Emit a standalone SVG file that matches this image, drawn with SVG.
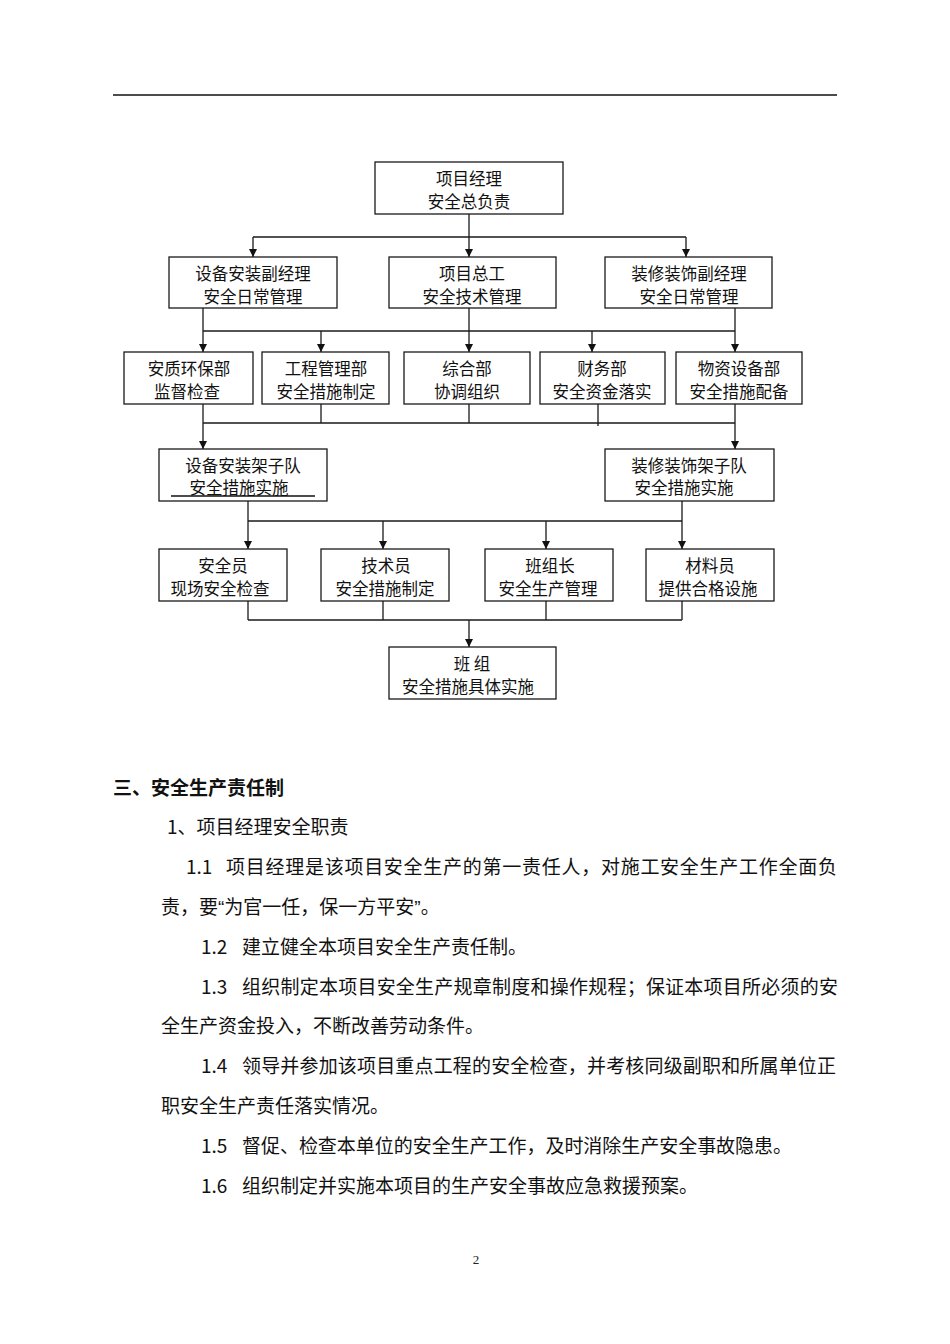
<svg xmlns="http://www.w3.org/2000/svg" width="950" height="1344" viewBox="0 0 950 1344">
<style>
.box{fill:#fff;stroke:#1a1a1a;stroke-width:1.3}
.bt{font-family:"Noto Sans CJK SC","Noto Sans",sans-serif;font-size:16.5px;fill:#111;text-anchor:middle}
.ln{fill:none;stroke:#1a1a1a;stroke-width:1.3}
.ar{fill:none;stroke:#1a1a1a;stroke-width:1.3;marker-end:url(#arr)}
.tx{font-family:"Noto Sans CJK SC","Noto Sans",sans-serif;font-size:19px;fill:#111}
.hd{font-weight:bold}
.q{font-family:"Liberation Sans",sans-serif}
</style>
<defs>
<marker id="arr" markerUnits="userSpaceOnUse" viewBox="0 0 8 8" refX="8" refY="4" markerWidth="8" markerHeight="8" orient="auto">
<path d="M0,0 L8,4 L0,8 z" fill="#111"/>
</marker>
</defs>
<rect width="950" height="1344" fill="#fff"/>
<line x1="113" y1="95" x2="837" y2="95" stroke="#111" stroke-width="1.4"/>

<g id="connectors">
<path class="ln" d="M469,214 V237 M253,237 H686"/>
<path class="ar" d="M253,237 V257"/>
<path class="ar" d="M469,237 V257"/>
<path class="ar" d="M686,237 V257"/>
<path class="ln" d="M203,331 H735"/>
<path class="ar" d="M203,308 V352"/>
<path class="ar" d="M469,308 V352"/>
<path class="ar" d="M735,308 V352"/>
<path class="ar" d="M321,331 V352"/>
<path class="ar" d="M592,331 V352"/>
<path class="ln" d="M203,423 H735 M321,404 V423 M469,404 V423 M598,404 V426"/>
<path class="ar" d="M203,404 V449"/>
<path class="ar" d="M735,404 V449"/>
<path class="ln" d="M248,521 H682"/>
<path class="ar" d="M248,501 V549"/>
<path class="ar" d="M682,501 V549"/>
<path class="ar" d="M383,521 V549"/>
<path class="ar" d="M546,521 V549"/>
<path class="ln" d="M248,601 V620 M383,589 V620 M546,601 V620 M682,601 V620 M248,620 H682"/>
<path class="ar" d="M469,620 V647"/>
</g>

<g id="n_pm"><rect class="box" x="375" y="162" width="188" height="52"/><text class="bt" x="469" y="185">项目经理</text><text class="bt" x="469" y="208">安全总负责</text></g>

<g id="n_dev"><rect class="box" x="169" y="257" width="168" height="51"/><text class="bt" x="253" y="280">设备安装副经理</text><text class="bt" x="253" y="303">安全日常管理</text></g>
<g id="n_chief"><rect class="box" x="389" y="257" width="167" height="51"/><text class="bt" x="472" y="280">项目总工</text><text class="bt" x="472" y="303">安全技术管理</text></g>
<g id="n_deco"><rect class="box" x="605" y="257" width="167" height="51"/><text class="bt" x="689" y="280">装修装饰副经理</text><text class="bt" x="689" y="303">安全日常管理</text></g>

<g id="n_qa"><rect class="box" x="124" y="352" width="129" height="52"/><text class="bt" x="189" y="375">安质环保部</text><text class="bt" x="187" y="398">监督检查</text></g>
<g id="n_eng"><rect class="box" x="262" y="352" width="127" height="52"/><text class="bt" x="326" y="375">工程管理部</text><text class="bt" x="326" y="398">安全措施制定</text></g>
<g id="n_gen"><rect class="box" x="404" y="352" width="126" height="52"/><text class="bt" x="467" y="375">综合部</text><text class="bt" x="467" y="398">协调组织</text></g>
<g id="n_fin"><rect class="box" x="540" y="352" width="125" height="52"/><text class="bt" x="602" y="375">财务部</text><text class="bt" x="602" y="398">安全资金落实</text></g>
<g id="n_mat"><rect class="box" x="676" y="352" width="126" height="52"/><text class="bt" x="739" y="375">物资设备部</text><text class="bt" x="739" y="398">安全措施配备</text></g>

<g id="n_devteam"><rect class="box" x="159" y="449" width="168" height="52"/><text class="bt" x="243" y="472">设备安装架子队</text><text class="bt" x="239" y="494">安全措施实施</text><line x1="171" y1="496" x2="315" y2="496" stroke="#111" stroke-width="1.3"/></g>
<g id="n_decoteam"><rect class="box" x="605" y="449" width="169" height="52"/><text class="bt" x="689" y="472">装修装饰架子队</text><text class="bt" x="684" y="494">安全措施实施</text></g>

<g id="n_safe"><rect class="box" x="159" y="549" width="128" height="52"/><text class="bt" x="223" y="572">安全员</text><text class="bt" x="220" y="595">现场安全检查</text></g>
<g id="n_tech"><rect class="box" x="321" y="549" width="128" height="52"/><text class="bt" x="386" y="572">技术员</text><text class="bt" x="385" y="595">安全措施制定</text></g>
<g id="n_lead"><rect class="box" x="485" y="549" width="128" height="52"/><text class="bt" x="550" y="572">班组长</text><text class="bt" x="548" y="595">安全生产管理</text></g>
<g id="n_matp"><rect class="box" x="646" y="549" width="128" height="52"/><text class="bt" x="710" y="572">材料员</text><text class="bt" x="708" y="595">提供合格设施</text></g>

<g id="n_team"><rect class="box" x="389" y="647" width="167" height="52"/><text class="bt" x="472" y="670">班 组</text><text class="bt" x="468" y="693">安全措施具体实施</text></g>

<g id="body">
<text class="tx hd" x="113" y="795">三、安全生产责任制</text>
<text class="tx" x="167" y="834">1、项目经理安全职责</text>
<text class="tx" x="186" y="874">1.1</text>
<text class="tx" x="226" y="874" textLength="611" lengthAdjust="spacing">项目经理是该项目安全生产的第一责任人，对施工安全生产工作全面负</text>
<text class="tx" x="161" y="914">责，要<tspan class="q">“</tspan>为官一任，保一方平安<tspan class="q">”</tspan>。</text>
<text class="tx" x="201" y="954">1.2</text>
<text class="tx" x="242" y="954">建立健全本项目安全生产责任制。</text>
<text class="tx" x="201" y="994">1.3</text>
<text class="tx" x="242" y="994" textLength="596" lengthAdjust="spacing">组织制定本项目安全生产规章制度和操作规程；保证本项目所必须的安</text>
<text class="tx" x="161" y="1033">全生产资金投入，不断改善劳动条件。</text>
<text class="tx" x="201" y="1073">1.4</text>
<text class="tx" x="242" y="1073" textLength="594" lengthAdjust="spacing">领导并参加该项目重点工程的安全检查，并考核同级副职和所属单位正</text>
<text class="tx" x="161" y="1113">职安全生产责任落实情况。</text>
<text class="tx" x="201" y="1153">1.5</text>
<text class="tx" x="242" y="1153" textLength="550" lengthAdjust="spacing">督促、检查本单位的安全生产工作，及时消除生产安全事故隐患。</text>
<text class="tx" x="201" y="1193">1.6</text>
<text class="tx" x="242" y="1193">组织制定并实施本项目的生产安全事故应急救援预案。</text>
</g>
<text x="476" y="1264" font-family="Liberation Serif, serif" font-size="13" text-anchor="middle" fill="#222">2</text>
</svg>
